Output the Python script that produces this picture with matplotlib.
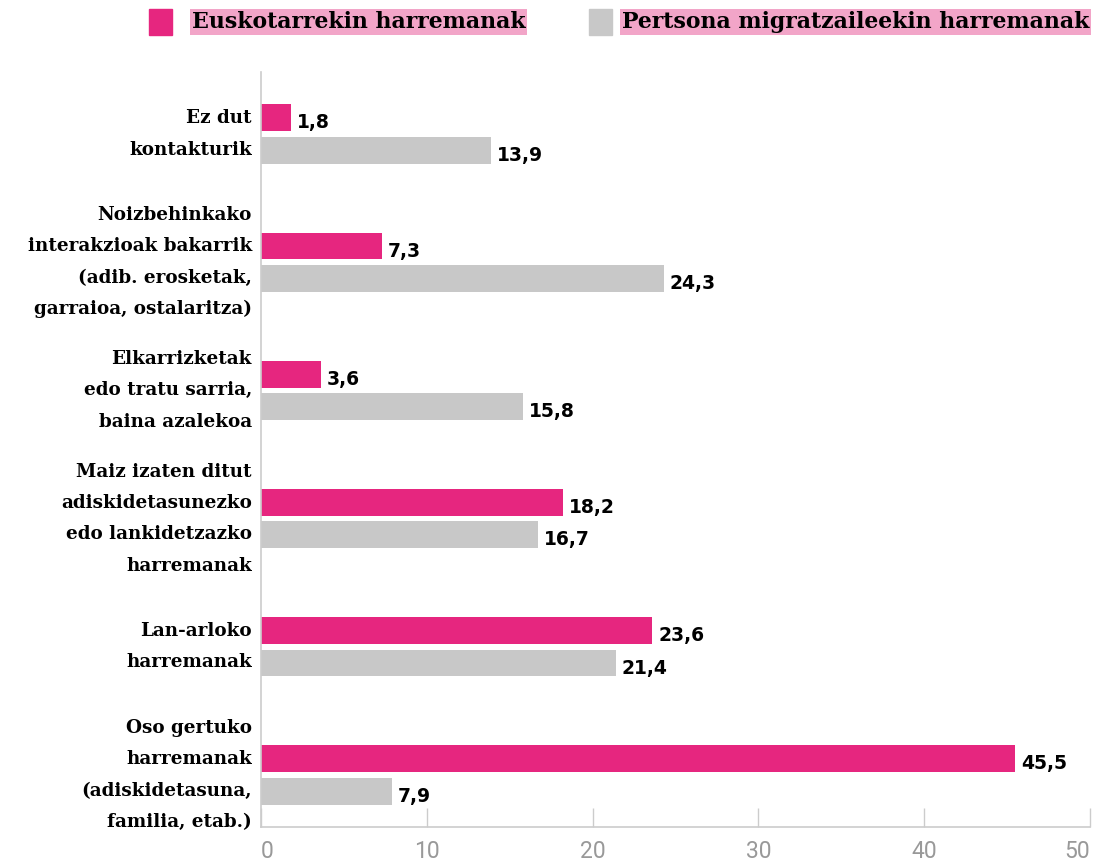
import matplotlib
matplotlib.use("Agg")
import matplotlib.pyplot as plt
import numpy as np

categories = [
    "Ez dut\nkontakturik",
    "Noizbehinkako\ninterakzioak bakarrik\n(adib. erosketak,\ngarraioa, ostalaritza)",
    "Elkarrizketak\nedo tratu sarria,\nbaina azalekoa",
    "Maiz izaten ditut\nadiskidetasunezko\nedo lankidetzazko\nharremanak",
    "Lan-arloko\nharremanak",
    "Oso gertuko\nharremanak\n(adiskidetasuna,\nfamilia, etab.)",
]
euskotarrak = [1.8, 7.3, 3.6, 18.2, 23.6, 45.5]
migratzaileak = [13.9, 24.3, 15.8, 16.7, 21.4, 7.9]
series_names = ["Euskotarrekin harremanak", "Pertsona migratzaileekin harremanak"]
xticks = [0, 10, 20, 30, 40, 50]

PINK = "#E6267F"
GRAY = "#C8C8C8"
HILITE = "#F2A5C8"
AXIS = "#CCCCCC"

W, H = 1099, 861
fig = plt.figure(figsize=(W / 100, H / 100), dpi=100)
ax = fig.add_axes([261 / W, 1 - 827 / H, (1090 - 261) / W, (827 - 72) / H])

y = np.arange(len(categories))
bh = 0.21
off = 0.127
ax.barh(y - off, euskotarrak, height=bh, color=PINK)
ax.barh(y + off, migratzaileak, height=bh, color=GRAY)

ax.set_xlim(0, 50)
ax.set_ylim(5 + 52 / 128, -62 / 128)

serif_bold = dict(family=["DejaVu Serif"], weight="bold")
for i, cat in enumerate(categories):
    ax.text(-0.55, y[i], cat, ha="right", va="center", fontsize=13.2,
            linespacing=1.95, color="black", **serif_bold)

fmt = lambda v: f"{v:.1f}".replace(".", ",")
for i in range(len(categories)):
    ax.text(euskotarrak[i] + 0.35, y[i] - off + 0.04, fmt(euskotarrak[i]),
            ha="left", va="center", fontsize=13.5, fontweight="bold", color="black")
    ax.text(migratzaileak[i] + 0.35, y[i] + off + 0.04, fmt(migratzaileak[i]),
            ha="left", va="center", fontsize=13.5, fontweight="bold", color="black")

ax.set_yticks([])
ax.set_xticks(xticks)
labels = ax.set_xticklabels([str(t) for t in xticks], family=["Roboto", "DejaVu Sans"],
                            fontsize=16.5, color="#999999")
labels[0].set_horizontalalignment("left")
labels[-1].set_horizontalalignment("right")
ax.tick_params(axis="x", direction="in", length=14, width=1, color=AXIS, pad=9)
for s in ["top", "right"]:
    ax.spines[s].set_visible(False)
for s in ["left", "bottom"]:
    ax.spines[s].set_color(AXIS)
    ax.spines[s].set_linewidth(1.2)

# legend
def legend_entry(x_sq, x_txt, color, label):
    fig.patches.append(plt.Rectangle((x_sq / W, 1 - 35 / H), 23 / W, 26 / H,
                                     transform=fig.transFigure, color=color))
    fig.text(x_txt / W, 1 - 22 / H, label, ha="left", va="center", fontsize=15.8,
             color="black", bbox=dict(facecolor=HILITE, edgecolor="none", pad=1.2),
             **serif_bold)

legend_entry(149, 192, PINK, series_names[0])
legend_entry(589, 622, GRAY, series_names[1])

fig.savefig("out.png", dpi=100)
